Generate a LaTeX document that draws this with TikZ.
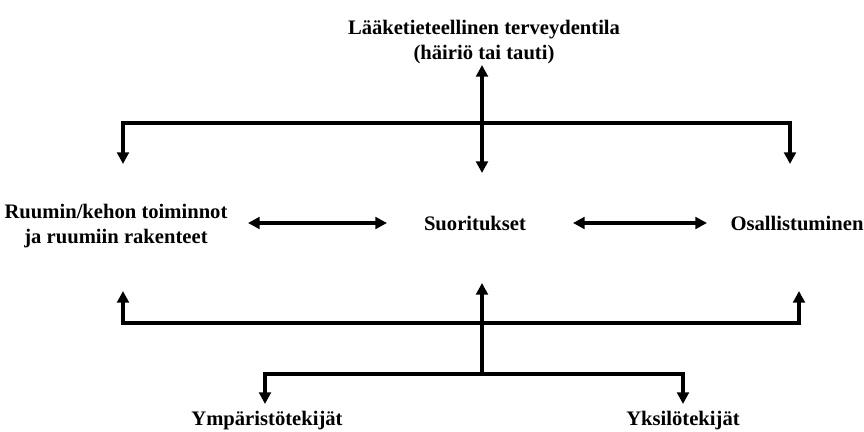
\documentclass[tikz,border=0pt]{standalone}
\usepackage{fontspec}
\setmainfont{Liberation Serif}
\usetikzlibrary{arrows.meta}

\tikzset{
	lbl/.style = {font = \fontsize{17.6}{21.6}\selectfont\bfseries, align = center, inner sep = 0pt},
	link/.style = {line width = 3.4pt, line join = miter},
	>={Triangle[length = 10pt, width = 10pt]}
}

\begin{document}
\begin{tikzpicture}[x = 0.03cm, y = -0.03cm]
	\useasboundingbox (0,0) rectangle (864,432);

	\node [lbl] (title) at (484,42) {Lääketieteellinen terveydentila\\(häiriö tai tauti)};
	\node [lbl] (body) at (116,226) {Ruumin/kehon toiminnot\\ja ruumiin rakenteet};
	\node [lbl] (act) at (475,223) {Suoritukset};
	\node [lbl] (part) at (797,223) {Osallistuminen};
	\node [lbl] (env) at (267,421) {Ympäristötekijät};
	\node [lbl] (pers) at (683,421) {Yksilötekijät};

	\coordinate (hubtop) at (482,65);
	\coordinate (hubbot) at (482,173);
	\coordinate (upL) at (123,164);
	\coordinate (upLc) at (123,123);
	\coordinate (upRc) at (790,123);
	\coordinate (upR) at (790,164);
	\coordinate (loL) at (123,291);
	\coordinate (loLc) at (123,323);
	\coordinate (loRc) at (799,323);
	\coordinate (loR) at (799,291);
	\coordinate (ctrtip) at (482,283);
	\coordinate (ctrfoot) at (482,374);
	\coordinate (envtip) at (265,404);
	\coordinate (envc) at (265,374);
	\coordinate (persc) at (683,374);
	\coordinate (perstip) at (683,404);
	\coordinate (a1) at (248,223);
	\coordinate (a2) at (387,223);
	\coordinate (a3) at (573,223);
	\coordinate (a4) at (707,223);

	\begin{scope}[link]
		\draw [<->] (hubtop) -- (hubbot);
		\draw [<->] (upL) -- (upLc) -- (upRc) -- (upR);
		\draw [<->] (a1) -- (a2);
		\draw [<->] (a3) -- (a4);
		\draw [<->] (loL) -- (loLc) -- (loRc) -- (loR);
		\draw [->] (ctrfoot) -- (ctrtip);
		\draw [<->] (envtip) -- (envc) -- (persc) -- (perstip);
	\end{scope}
\end{tikzpicture}
\end{document}
